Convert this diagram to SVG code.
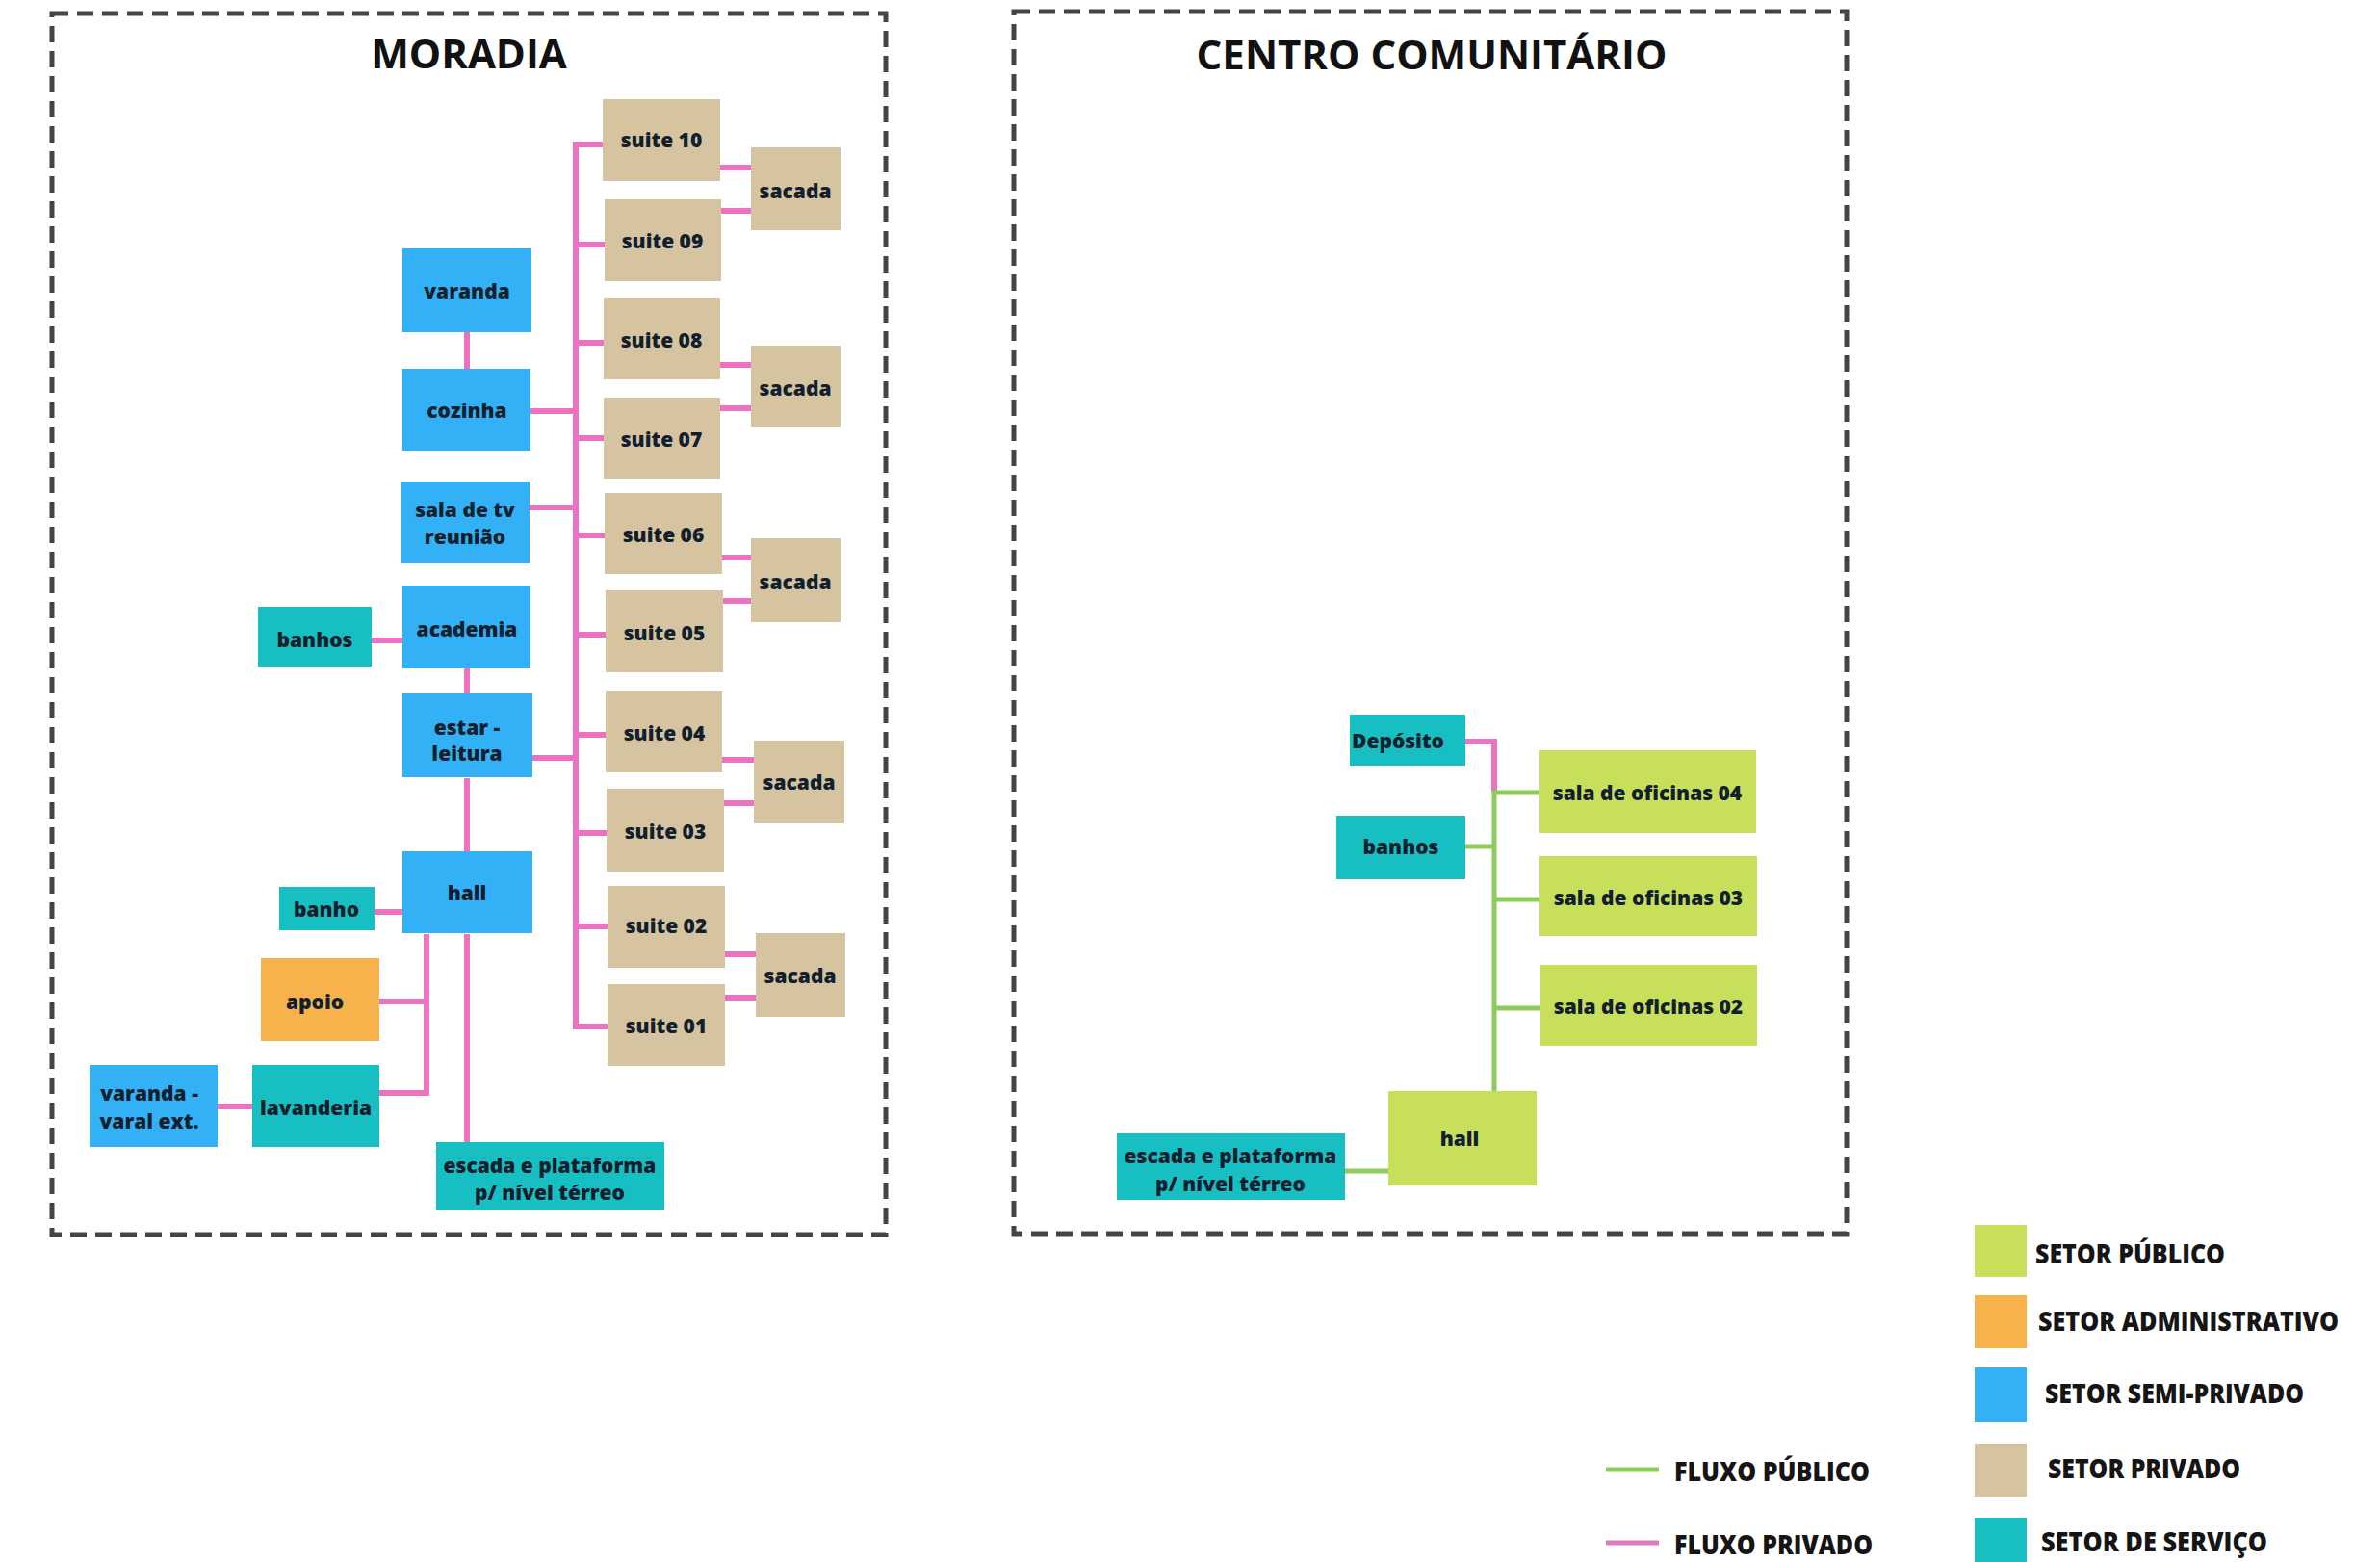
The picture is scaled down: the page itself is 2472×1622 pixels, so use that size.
<svg xmlns="http://www.w3.org/2000/svg" width="2472" height="1622" viewBox="0 0 2472 1622">
<style>
.frame{fill:none;stroke:#444;stroke-width:5;stroke-dasharray:17 9}
.title{font-family:"Open Sans","Liberation Sans",sans-serif;font-weight:700;font-size:42px;fill:#111;text-anchor:middle}
.lbl{font-family:"Open Sans","Liberation Sans",sans-serif;font-weight:800;font-size:21px;fill:#12202e;text-anchor:middle;dominant-baseline:central}
.leg{font-family:"Open Sans","Liberation Sans",sans-serif;font-weight:800;font-size:28px;fill:#151515;dominant-baseline:central}
.blue{fill:#33b1f6}
.teal{fill:#17bfc3}
.tan{fill:#d5c49f}
.orange{fill:#f8b24c}
.lime{fill:#c8df5c}
.pk{fill:none;stroke:#ea72c0;stroke-width:6}
.gr{fill:none;stroke:#8ccb5c;stroke-width:5}
</style>
<rect width="2472" height="1622" fill="#ffffff"/>

<g id="frames">
<rect class="frame" x="54" y="14" width="866" height="1268"/>
<rect class="frame" x="1053" y="12" width="865" height="1269"/>
<text class="title" x="487" y="71">MORADIA</text>
<text class="title" x="1487" y="72">CENTRO COMUNITÁRIO</text>
</g>

<g id="connectors">
<path class="pk" d="M626 150 H598 V1066 H631"/>
<path class="pk" d="M598 254 H628 M598 356 H627 M598 455 H627 M598 556 H628 M598 659 H629 M598 763 H629 M598 865 H630 M598 962 H631"/>
<path class="pk" d="M551 427 H598 M550 527 H598 M553 787 H598"/>
<path class="pk" d="M485 345 V383 M485 694 V720 M485 808 V884 M485 970 V1186"/>
<path class="pk" d="M443 970 V1135 H394 M394 1040 H443"/>
<path class="pk" d="M389 947 H418 M386 665 H418 M226 1149 H262"/>
<path class="pk" d="M748 174 H780 M749 219 H780 M748 379 H780 M748 424 H780 M750 579 H780 M751 624 H780 M750 789 H783 M752 834 H783 M753 991 H785 M753 1036 H785"/>
<path class="pk" d="M1522 770 H1552 V822"/>
<path class="gr" d="M1552 820 V1133"/>
<path class="gr" d="M1552 823 H1599 M1552 934 H1599 M1552 1047 H1600 M1522 879 H1552 M1397 1216 H1442"/>
</g>

<g id="n-suite10"><rect class="tan" x="626" y="103" width="122" height="85"/><text class="lbl" x="687" y="145">suite 10</text></g>
<g id="n-suite09"><rect class="tan" x="628" y="207" width="121" height="85"/><text class="lbl" x="688" y="250">suite 09</text></g>
<g id="n-suite08"><rect class="tan" x="627" y="309" width="121" height="85"/><text class="lbl" x="687" y="353">suite 08</text></g>
<g id="n-suite07"><rect class="tan" x="627" y="413" width="121" height="84"/><text class="lbl" x="687" y="456">suite 07</text></g>
<g id="n-suite06"><rect class="tan" x="628" y="512" width="122" height="84"/><text class="lbl" x="689" y="555">suite 06</text></g>
<g id="n-suite05"><rect class="tan" x="629" y="613" width="122" height="85"/><text class="lbl" x="690" y="657">suite 05</text></g>
<g id="n-suite04"><rect class="tan" x="629" y="718" width="121" height="84"/><text class="lbl" x="690" y="761">suite 04</text></g>
<g id="n-suite03"><rect class="tan" x="630" y="819" width="122" height="86"/><text class="lbl" x="691" y="863">suite 03</text></g>
<g id="n-suite02"><rect class="tan" x="631" y="920" width="122" height="85"/><text class="lbl" x="692" y="961">suite 02</text></g>
<g id="n-suite01"><rect class="tan" x="631" y="1022" width="122" height="85"/><text class="lbl" x="692" y="1065">suite 01</text></g>

<g id="n-sacada1"><rect class="tan" x="780" y="153" width="93" height="86"/><text class="lbl" x="826" y="198">sacada</text></g>
<g id="n-sacada2"><rect class="tan" x="780" y="359" width="93" height="84"/><text class="lbl" x="826" y="403">sacada</text></g>
<g id="n-sacada3"><rect class="tan" x="780" y="559" width="93" height="87"/><text class="lbl" x="826" y="604">sacada</text></g>
<g id="n-sacada4"><rect class="tan" x="783" y="769" width="94" height="86"/><text class="lbl" x="830" y="812">sacada</text></g>
<g id="n-sacada5"><rect class="tan" x="785" y="969" width="93" height="87"/><text class="lbl" x="831" y="1013">sacada</text></g>

<g id="n-varanda"><rect class="blue" x="418" y="258" width="134" height="87"/><text class="lbl" x="485" y="302">varanda</text></g>
<g id="n-cozinha"><rect class="blue" x="418" y="383" width="133" height="85"/><text class="lbl" x="485" y="426">cozinha</text></g>
<g id="n-salatv"><rect class="blue" x="416" y="500" width="134" height="85"/><text class="lbl" x="483" y="529">sala de tv</text><text class="lbl" x="483" y="557">reunião</text></g>
<g id="n-academia"><rect class="blue" x="418" y="608" width="133" height="86"/><text class="lbl" x="485" y="653">academia</text></g>
<g id="n-estar"><rect class="blue" x="418" y="720" width="135" height="87"/><text class="lbl" x="485" y="755">estar -</text><text class="lbl" x="485" y="782">leitura</text></g>
<g id="n-hall"><rect class="blue" x="418" y="884" width="135" height="85"/><text class="lbl" x="485" y="927">hall</text></g>
<g id="n-banhos"><rect class="teal" x="268" y="630" width="118" height="63"/><text class="lbl" x="327" y="664">banhos</text></g>
<g id="n-banho"><rect class="teal" x="290" y="921" width="99" height="45"/><text class="lbl" x="339" y="944">banho</text></g>
<g id="n-apoio"><rect class="orange" x="271" y="995" width="123" height="86"/><text class="lbl" x="327" y="1040">apoio</text></g>
<g id="n-lavanderia"><rect class="teal" x="262" y="1106" width="132" height="85"/><text class="lbl" x="328" y="1150">lavanderia</text></g>
<g id="n-varal"><rect class="blue" x="93" y="1106" width="133" height="85"/><text class="lbl" x="155" y="1135">varanda -</text><text class="lbl" x="155" y="1164">varal ext.</text></g>
<g id="n-escada"><rect class="teal" x="453" y="1186" width="237" height="70"/><text class="lbl" x="571" y="1210">escada e plataforma</text><text class="lbl" x="571" y="1238">p/ nível térreo</text></g>

<g id="c-deposito"><rect class="teal" x="1402" y="742" width="120" height="53"/><text class="lbl" x="1452" y="769">Depósito</text></g>
<g id="c-banhos"><rect class="teal" x="1388" y="847" width="134" height="66"/><text class="lbl" x="1455" y="879">banhos</text></g>
<g id="c-sala04"><rect class="lime" x="1599" y="779" width="225" height="86"/><text class="lbl" x="1711" y="823">sala de oficinas 04</text></g>
<g id="c-sala03"><rect class="lime" x="1599" y="889" width="226" height="83"/><text class="lbl" x="1712" y="932">sala de oficinas 03</text></g>
<g id="c-sala02"><rect class="lime" x="1600" y="1002" width="225" height="84"/><text class="lbl" x="1712" y="1045">sala de oficinas 02</text></g>
<g id="c-hall"><rect class="lime" x="1442" y="1133" width="154" height="98"/><text class="lbl" x="1516" y="1182">hall</text></g>
<g id="c-escada"><rect class="teal" x="1160" y="1177" width="237" height="69"/><text class="lbl" x="1278" y="1200">escada e plataforma</text><text class="lbl" x="1278" y="1229">p/ nível térreo</text></g>

<g id="legend">
<rect class="lime" x="2051" y="1272" width="54" height="54"/>
<text class="leg" x="2114" y="1301" textLength="197" lengthAdjust="spacingAndGlyphs">SETOR PÚBLICO</text>
<rect class="orange" x="2051" y="1345" width="54" height="55"/>
<text class="leg" x="2117" y="1371" textLength="312" lengthAdjust="spacingAndGlyphs">SETOR ADMINISTRATIVO</text>
<rect class="blue" x="2051" y="1420" width="54" height="57"/>
<text class="leg" x="2124" y="1446" textLength="269" lengthAdjust="spacingAndGlyphs">SETOR SEMI-PRIVADO</text>
<rect class="tan" x="2051" y="1499" width="54" height="55"/>
<text class="leg" x="2127" y="1524" textLength="200" lengthAdjust="spacingAndGlyphs">SETOR PRIVADO</text>
<rect class="teal" x="2051" y="1576" width="54" height="56"/>
<text class="leg" x="2120" y="1600" textLength="235" lengthAdjust="spacingAndGlyphs">SETOR DE SERVIÇO</text>
<line x1="1668" y1="1526" x2="1723" y2="1526" stroke="#8ccb5c" stroke-width="5"/>
<text class="leg" x="1739" y="1527" textLength="203" lengthAdjust="spacingAndGlyphs">FLUXO PÚBLICO</text>
<line x1="1668" y1="1602" x2="1723" y2="1602" stroke="#e07ac0" stroke-width="5"/>
<text class="leg" x="1739" y="1603" textLength="206" lengthAdjust="spacingAndGlyphs">FLUXO PRIVADO</text>
</g>
</svg>
